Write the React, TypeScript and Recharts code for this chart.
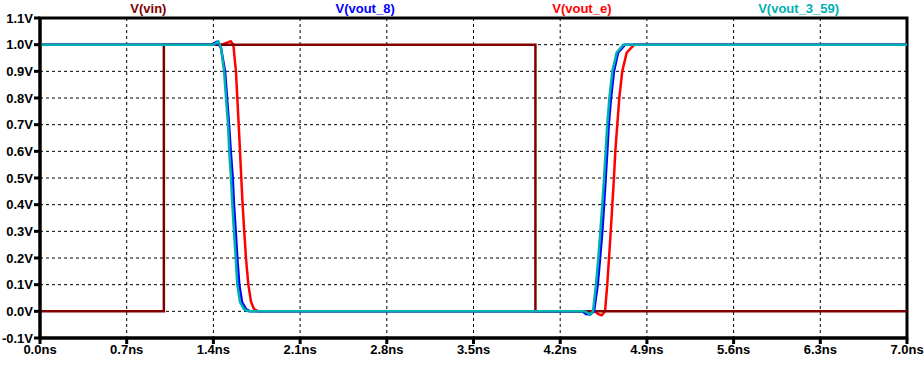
import React from "react";
import {
  LineChart,
  Line,
  XAxis,
  YAxis,
  CartesianGrid,
  ReferenceArea,
} from "recharts";

// time (ns), voltage (V)
const vin: [number, number][] = [
  [0, 0], [1.0, 0], [1.0, 1.0], [4.0, 1.0], [4.0, 0], [7.0, 0],
];

const voutE: [number, number][] = [
  [0, 1], [1.467, 1.0], [1.5, 1.006], [1.54, 1.013], [1.561, 1.0], [1.582, 0.9],
  [1.593, 0.8], [1.604, 0.7], [1.615, 0.6], [1.625, 0.5], [1.636, 0.4],
  [1.649, 0.3], [1.663, 0.2], [1.682, 0.1], [1.704, 0.035], [1.728, 0.008],
  [1.763, 0], [4.481, 0], [4.505, -0.01], [4.535, -0.015], [4.562, 0],
  [4.58, 0.1], [4.594, 0.2], [4.608, 0.3], [4.621, 0.4], [4.634, 0.5],
  [4.645, 0.6], [4.661, 0.7], [4.677, 0.8], [4.701, 0.9], [4.737, 0.97],
  [4.798, 1.0], [7, 1],
];

const vout8: [number, number][] = [
  [0, 1], [1.39, 1.0], [1.427, 1.01], [1.46, 0.99], [1.494, 0.9], [1.51, 0.8],
  [1.526, 0.7], [1.54, 0.6], [1.556, 0.5], [1.566, 0.4], [1.58, 0.3],
  [1.593, 0.2], [1.609, 0.1], [1.631, 0.035], [1.663, 0.008], [1.696, 0],
  [4.38, 0], [4.408, -0.01], [4.441, -0.012], [4.473, 0], [4.503, 0.1],
  [4.522, 0.2], [4.54, 0.3], [4.554, 0.4], [4.567, 0.5], [4.58, 0.6],
  [4.592, 0.7], [4.61, 0.8], [4.634, 0.9], [4.667, 0.97], [4.724, 1.0], [7, 1],
];

const vout359: [number, number][] = [
  [0, 1], [1.4, 1.0], [1.421, 1.005], [1.44, 1.012], [1.461, 0.99], [1.486, 0.9],
  [1.502, 0.8], [1.518, 0.7], [1.528, 0.6], [1.542, 0.5], [1.553, 0.4],
  [1.566, 0.3], [1.58, 0.2], [1.593, 0.1], [1.615, 0.035], [1.647, 0.008],
  [1.682, 0], [4.4, 0], [4.441, -0.012], [4.465, 0], [4.489, 0.1], [4.508, 0.2],
  [4.524, 0.3], [4.54, 0.4], [4.554, 0.5], [4.567, 0.6], [4.58, 0.7],
  [4.597, 0.8], [4.621, 0.9], [4.656, 0.97], [4.71, 1.0], [7, 1],
];

const timeTicks = [0, 0.7, 1.4, 2.1, 2.8, 3.5, 4.2, 4.9, 5.6, 6.3, 7.0];
const voltTicks = [-0.1, 0, 0.1, 0.2, 0.3, 0.4, 0.5, 0.6, 0.7, 0.8, 0.9, 1.0, 1.1];

const legendNames = ["V(vin)", "V(vout_8)", "V(vout_e)", "V(vout_3_59)"];
const legendColors = ["#800000", "#0000ff", "#ff0000", "#00b0b0"];

const toPoints = (pts: [number, number][]) => pts.map(([t, v]) => ({ t, v }));

const font = "'Liberation Sans', Arial, sans-serif";
const tickStyle = { fontFamily: font, fontSize: 13, fontWeight: 700, fill: "#000" };

export default function App() {
  return (
    <div style={{ position: "absolute", left: 0, top: 0, width: 924, height: 365, background: "#fff" }}>
      <LineChart
        width={924}
        height={365}
        margin={{ top: 18, right: 17, bottom: 0, left: 0 }}
      >
        <CartesianGrid stroke="#000" strokeDasharray="3 3" strokeWidth={1} />
        <XAxis
          type="number"
          dataKey="t"
          domain={[0, 7]}
          ticks={timeTicks}
          tickFormatter={(t: number) => `${t.toFixed(1)}ns`}
          interval={0}
          height={27}
          tickSize={6}
          tickMargin={1}
          tick={tickStyle}
          axisLine={{ stroke: "#000", strokeWidth: 3 }}
          tickLine={{ stroke: "#000", strokeWidth: 3 }}
        />
        <YAxis
          type="number"
          domain={[-0.1, 1.1]}
          ticks={voltTicks}
          tickFormatter={(v: number) => `${v.toFixed(1)}V`}
          interval={0}
          width={40}
          tickSize={6}
          tickMargin={1}
          tick={tickStyle}
          axisLine={{ stroke: "#000", strokeWidth: 3 }}
          tickLine={{ stroke: "#000", strokeWidth: 3 }}
        />
        <Line data={toPoints(voutE)} dataKey="v" stroke="#ff0000" strokeWidth={2.5} dot={false} type="linear" isAnimationActive={false} />
        <Line data={toPoints(vin)} dataKey="v" stroke="#800000" strokeWidth={2.5} dot={false} type="linear" isAnimationActive={false} />
        <Line data={toPoints(vout8)} dataKey="v" stroke="#0000ff" strokeWidth={2.5} dot={false} type="linear" isAnimationActive={false} />
        <Line data={toPoints(vout359)} dataKey="v" stroke="#00b0b0" strokeWidth={2.5} dot={false} type="linear" isAnimationActive={false} />
        <ReferenceArea x1={0} x2={7} y1={-0.1} y2={1.1} fill="none" stroke="#000" strokeWidth={3} />
      </LineChart>
      <div
        style={{
          position: "absolute",
          left: 40,
          top: 0,
          width: 867,
          height: 18,
          display: "flex",
          fontFamily: font,
          fontSize: 13,
          fontWeight: 700,
          lineHeight: "18px",
        }}
      >
        {legendNames.map((name, i) => (
          <div key={name} style={{ flex: 1, textAlign: "center", color: legendColors[i] }}>
            {name}
          </div>
        ))}
      </div>
    </div>
  );
}
